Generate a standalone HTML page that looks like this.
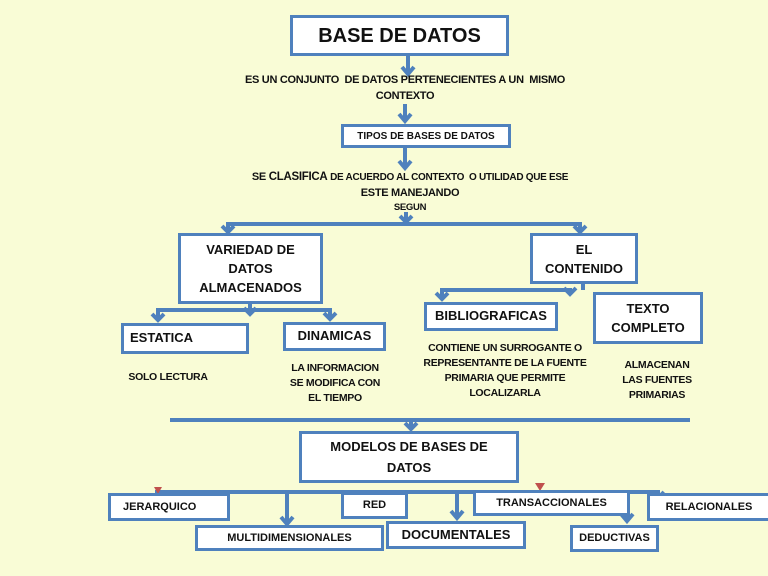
<!DOCTYPE html>
<html><head><meta charset="utf-8"><style>
body{margin:0}
#c{position:relative;width:768px;height:576px;background:#f9fcd6;overflow:hidden;font-family:"Liberation Sans",sans-serif;font-weight:bold;color:#111}
.b{position:absolute;box-sizing:border-box;border:3px solid #4f81bd;background:#fff;display:flex;align-items:center;justify-content:center;text-align:center;line-height:1.3}
.t{position:absolute;text-align:center;font-size:10.5px;line-height:15px;letter-spacing:-0.3px;white-space:nowrap}
svg{position:absolute;left:0;top:0}
</style></head><body><div id="c">
<svg width="768" height="576">
<g stroke="#4f81bd" stroke-width="4" fill="none">
<line x1="408" y1="55" x2="408" y2="74"/><polyline points="402,67 408,74 414,67"/>
<line x1="405" y1="104" x2="405" y2="121"/><polyline points="399,114 405,121 411,114"/>
<line x1="405" y1="147" x2="405" y2="168"/><polyline points="399,161 405,168 411,161"/>
<line x1="406" y1="212" x2="406" y2="222"/><polyline points="400,216 406,222 412,216"/>
<line x1="226" y1="224" x2="582" y2="224"/>
<line x1="228" y1="224" x2="228" y2="231"/><polyline points="222,226 228,232 234,226"/>
<line x1="580" y1="224" x2="580" y2="231"/><polyline points="574,226 580,232 586,226"/>
<line x1="156" y1="310" x2="332" y2="310"/>
<line x1="158" y1="310" x2="158" y2="320"/><polyline points="152,314 158,320 164,314"/>
<line x1="330" y1="310" x2="330" y2="319"/><polyline points="324,313 330,319 336,313"/>
<line x1="250" y1="303" x2="250" y2="314"/><polyline points="244,308 250,314 256,308"/>
<line x1="583" y1="283" x2="583" y2="290"/>
<line x1="440" y1="290" x2="572" y2="290"/>
<line x1="442" y1="290" x2="442" y2="298"/><polyline points="436,293 442,299 448,293"/>
<polyline points="564,288 570,294 576,288"/>
<line x1="170" y1="420" x2="690" y2="420"/>
<line x1="411" y1="420" x2="411" y2="429"/><polyline points="405,423 411,429 417,423"/>
<line x1="155" y1="492" x2="660" y2="492"/>
<line x1="287" y1="492" x2="287" y2="524"/><polyline points="281,517 287,524 293,517"/>
<line x1="372" y1="492" x2="372" y2="496"/><polyline points="366,492 372,498 378,492"/>
<line x1="457" y1="492" x2="457" y2="518"/><polyline points="451,511 457,518 463,511"/>
<line x1="627" y1="492" x2="627" y2="521"/><polyline points="621,514 627,521 633,514"/>
<line x1="658" y1="492" x2="658" y2="497"/><polyline points="652,492 658,498 664,492"/>
</g>
<path d="M154,487 L162,487 L158,494 Z" fill="#c0504d"/>
<path d="M535,483 L545,483 L540,491 Z" fill="#c0504d"/>
</svg>
<div class="b" style="left:290px;top:15px;width:219px;height:41px;font-size:20px">BASE DE DATOS</div>
<div class="t" style="left:200px;top:72px;width:410px;font-size:11px;line-height:16px">ES UN CONJUNTO &nbsp;DE DATOS PERTENECIENTES A UN &nbsp;MISMO<br>CONTEXTO</div>
<div class="b" style="left:341px;top:124px;width:170px;height:24px;font-size:10px">TIPOS DE BASES DE DATOS</div>
<div class="t" style="left:210px;top:170px;width:400px;line-height:14.5px;font-size:11px">SE <span style="font-size:11.5px">CLASIFICA</span> <span style="font-size:10px">DE ACUERDO AL CONTEXTO &nbsp;O UTILIDAD QUE ESE</span><br>ESTE MANEJANDO<br><span style="font-size:9.5px">SEGUN</span></div>
<div class="b" style="left:178px;top:233px;width:145px;height:71px;font-size:13px;line-height:19px">VARIEDAD DE<br>DATOS<br>ALMACENADOS</div>
<div class="b" style="left:530px;top:233px;width:108px;height:51px;font-size:13px;line-height:19px">EL<br>CONTENIDO</div>
<div class="b" style="left:121px;top:323px;width:128px;height:31px;font-size:13px;justify-content:flex-start;padding-left:6px">ESTATICA</div>
<div class="b" style="left:283px;top:322px;width:103px;height:29px;font-size:13px">DINAMICAS</div>
<div class="b" style="left:424px;top:302px;width:134px;height:29px;font-size:13px">BIBLIOGRAFICAS</div>
<div class="b" style="left:593px;top:292px;width:110px;height:52px;font-size:13px;line-height:19px">TEXTO<br>COMPLETO</div>
<div class="t" style="left:118px;top:370px;width:100px">SOLO LECTURA</div>
<div class="t" style="left:280px;top:361px;width:110px">LA INFORMACION<br>SE MODIFICA CON<br>EL TIEMPO</div>
<div class="t" style="left:405px;top:341px;width:200px">CONTIENE UN SURROGANTE O<br>REPRESENTANTE DE LA FUENTE<br>PRIMARIA QUE PERMITE<br>LOCALIZARLA</div>
<div class="t" style="left:610px;top:358px;width:94px">ALMACENAN<br>LAS FUENTES<br>PRIMARIAS</div>
<div class="b" style="left:299px;top:431px;width:220px;height:52px;font-size:13px;line-height:21px">MODELOS DE BASES DE<br>DATOS</div>
<div class="b" style="left:108px;top:493px;width:122px;height:28px;font-size:11px;justify-content:flex-start;padding-left:12px">JERARQUICO</div>
<div class="b" style="left:195px;top:525px;width:189px;height:26px;font-size:11px">MULTIDIMENSIONALES</div>
<div class="b" style="left:341px;top:492px;width:67px;height:27px;font-size:11px">RED</div>
<div class="b" style="left:386px;top:521px;width:140px;height:28px;font-size:13px">DOCUMENTALES</div>
<div class="b" style="left:473px;top:490px;width:157px;height:26px;font-size:11px">TRANSACCIONALES</div>
<div class="b" style="left:570px;top:525px;width:89px;height:27px;font-size:11px">DEDUCTIVAS</div>
<div class="b" style="left:647px;top:493px;width:124px;height:28px;font-size:11px">RELACIONALES</div>
</div></body></html>
